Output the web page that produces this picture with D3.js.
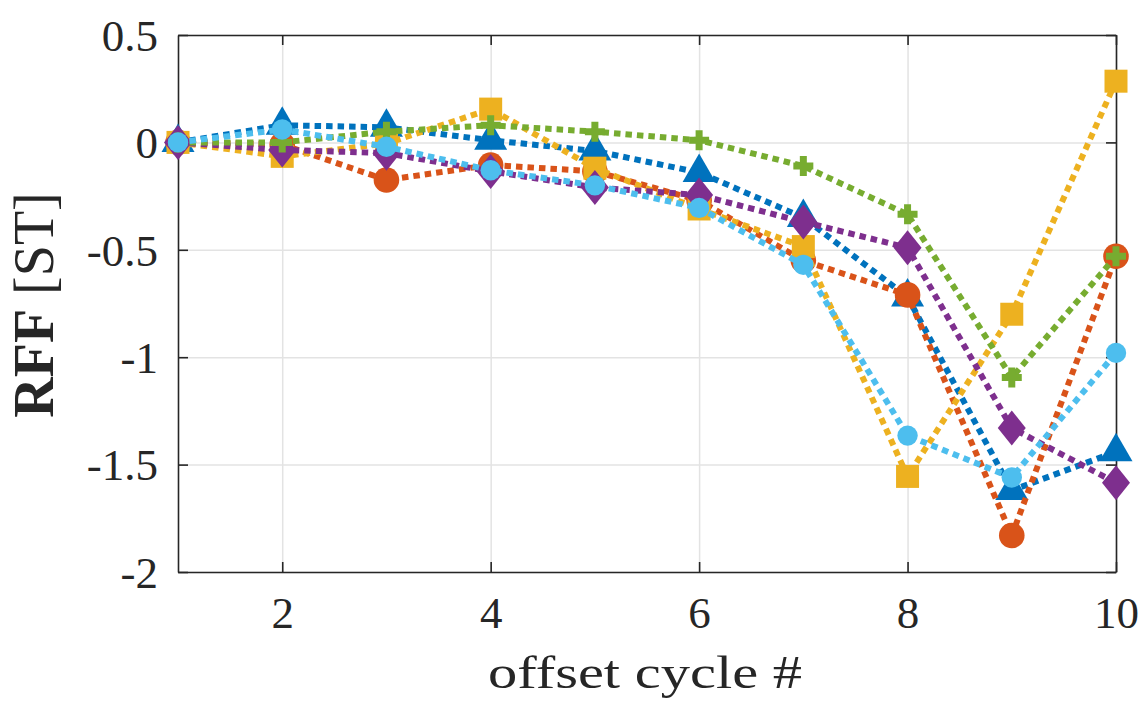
<!DOCTYPE html>
<html>
<head>
<meta charset="utf-8">
<script src="https://cdn.jsdelivr.net/npm/d3@7"></script>
<style>
  body { margin: 0; background: #fff; }
  #graphic text { font-family: "Liberation Serif", "Times New Roman", serif; fill: #262626; }
</style>
</head>
<body>
<div id="graphic"></div>
<script>
// offset cycle numbers
const cycles = [1, 2, 3, 4, 5, 6, 7, 8, 9, 10];

// RFF values [ST] per series
const blueTri    = [0, 0.08, 0.07, 0.01, -0.04, -0.14, -0.35, -0.72, -1.62, -1.44];
const redCircle  = [0, -0.01, -0.175, -0.105, -0.135, -0.27, -0.55, -0.71, -1.83, -0.53];
const yellowSq   = [0, -0.065, -0.005, 0.155, -0.12, -0.31, -0.485, -1.555, -0.80, 0.285];
const purpleDia  = [0, -0.035, -0.05, -0.135, -0.21, -0.245, -0.37, -0.49, -1.33, -1.585];
const greenPlus  = [0, 0.0, 0.05, 0.08, 0.05, 0.01, -0.11, -0.335, -1.095, -0.53];
const cyanCircle = [0, 0.06, -0.02, -0.13, -0.2, -0.305, -0.57, -1.365, -1.56, -0.98];

const xTicks = [2, 4, 6, 8, 10];
const yTicks = [-2, -1.5, -1, -0.5, 0, 0.5];

const series = [
	{ values: blueTri,    colour: '#0072bd', marker: 'triangle' },
	{ values: redCircle,  colour: '#d95319', marker: 'bigcircle' },
	{ values: yellowSq,   colour: '#edb120', marker: 'square' },
	{ values: purpleDia,  colour: '#7e2f8e', marker: 'diamond' },
	{ values: greenPlus,  colour: '#77ac30', marker: 'plus' },
	{ values: cyanCircle, colour: '#4dbeee', marker: 'circle' }
];

const width = 1145, heightTotal = 708;
const margin = { top: 35, right: 29, bottom: 136, left: 178 };
const chartWidth = width - margin.left - margin.right;
const height = heightTotal - margin.top - margin.bottom;

const svg = d3.select('#graphic').append('svg')
	.attr('width', width)
	.attr('height', heightTotal)
	.append('g')
	.attr('transform', `translate(${margin.left},${margin.top})`);

const x = d3.scaleLinear().domain([1, 10]).range([0, chartWidth]);
const y = d3.scaleLinear().domain([-2, 0.5]).range([height, 0]);

//grid lines
svg.append('g')
	.attr('transform', `translate(0,${height})`)
	.call(d3.axisBottom(x).tickValues(xTicks).tickSize(-height).tickFormat(''))
	.call(g => g.select('.domain').remove())
	.selectAll('line').attr('stroke', '#e3e3e3').attr('stroke-width', 1.5);

svg.append('g')
	.call(d3.axisLeft(y).tickValues(yTicks).tickSize(-chartWidth).tickFormat(''))
	.call(g => g.select('.domain').remove())
	.selectAll('line').attr('stroke', '#e3e3e3').attr('stroke-width', 1.5);

//axes, ticks pointing inward, box on (plain hyphen for negatives, like the original)
const tickFmt = d => String(d);

const xAxis = svg.append('g')
	.attr('transform', `translate(0,${height})`)
	.call(d3.axisBottom(x).tickValues(xTicks).tickSizeInner(-10).tickSizeOuter(0).tickPadding(24).tickFormat(tickFmt));

const xAxisTop = svg.append('g')
	.call(d3.axisTop(x).tickValues(xTicks).tickSizeInner(-10).tickSizeOuter(0).tickFormat(''));

const yAxis = svg.append('g')
	.call(d3.axisLeft(y).tickValues(yTicks).tickSizeInner(-10).tickSizeOuter(0).tickPadding(20).tickFormat(tickFmt));

const yAxisRight = svg.append('g')
	.attr('transform', `translate(${chartWidth},0)`)
	.call(d3.axisRight(y).tickValues(yTicks).tickSizeInner(-10).tickSizeOuter(0).tickFormat(''));

[xAxis, xAxisTop, yAxis, yAxisRight].forEach(g => {
	g.select('.domain').attr('stroke', '#262626').attr('stroke-width', 1.6);
	g.selectAll('.tick line').attr('stroke', '#262626').attr('stroke-width', 1.6);
	g.selectAll('text').attr('font-size', 45).attr('fill', '#262626')
		.style('font-family', '"Liberation Serif", serif');
});
yAxis.selectAll('text').attr('dy', '0.34em');
xAxis.selectAll('text').attr('dy', '0.72em');

//data lines and markers
const line = d3.line().x((d, i) => x(cycles[i])).y(d => y(d));

function drawMarker(g, type, colour) {
	if (type === 'triangle') {
		g.append('path').attr('d', 'M0,-19L16.5,9.5L-16.5,9.5Z').attr('fill', colour);
	} else if (type === 'bigcircle') {
		g.append('circle').attr('r', 12.8).attr('fill', colour);
	} else if (type === 'circle') {
		g.append('circle').attr('r', 10.2).attr('fill', colour);
	} else if (type === 'square') {
		g.append('rect').attr('x', -11.5).attr('y', -11.5).attr('width', 23).attr('height', 23).attr('fill', colour);
	} else if (type === 'diamond') {
		g.append('path').attr('d', 'M0,-17.5L14,0L0,17.5L-14,0Z').attr('fill', colour);
	} else if (type === 'plus') {
		g.append('path').attr('d', 'M-10,0H10M0,-10V10').attr('stroke', colour).attr('stroke-width', 7);
	}
}

series.forEach(s => {
	const g = svg.append('g');
	g.append('path')
		.datum(s.values)
		.attr('d', line)
		.attr('fill', 'none')
		.attr('stroke', s.colour)
		.attr('stroke-width', 6)
		.attr('stroke-dasharray', '6.5,5');
	g.selectAll('g.marker')
		.data(s.values)
		.join('g')
		.attr('class', 'marker')
		.attr('transform', (d, i) => `translate(${x(cycles[i])},${y(d)})`)
		.each(function () { drawMarker(d3.select(this), s.marker, s.colour); });
});

//axis labels
svg.append('text')
	.attr('x', (488 + 802) / 2 - margin.left)
	.attr('y', height + 116)
	.attr('text-anchor', 'middle')
	.attr('font-size', 47)
	.attr('textLength', 314)
	.attr('lengthAdjust', 'spacingAndGlyphs')
	.text('offset cycle #');

const yLab = svg.append('text')
	.attr('transform', `translate(${-125},${(190 + 420) / 2 - margin.top}) rotate(-90)`)
	.attr('text-anchor', 'middle')
	.attr('font-size', 56);
yLab.append('tspan').attr('font-weight', 'bold').text('RFF');
yLab.append('tspan').text(' [ST]');
</script>
</body>
</html>
